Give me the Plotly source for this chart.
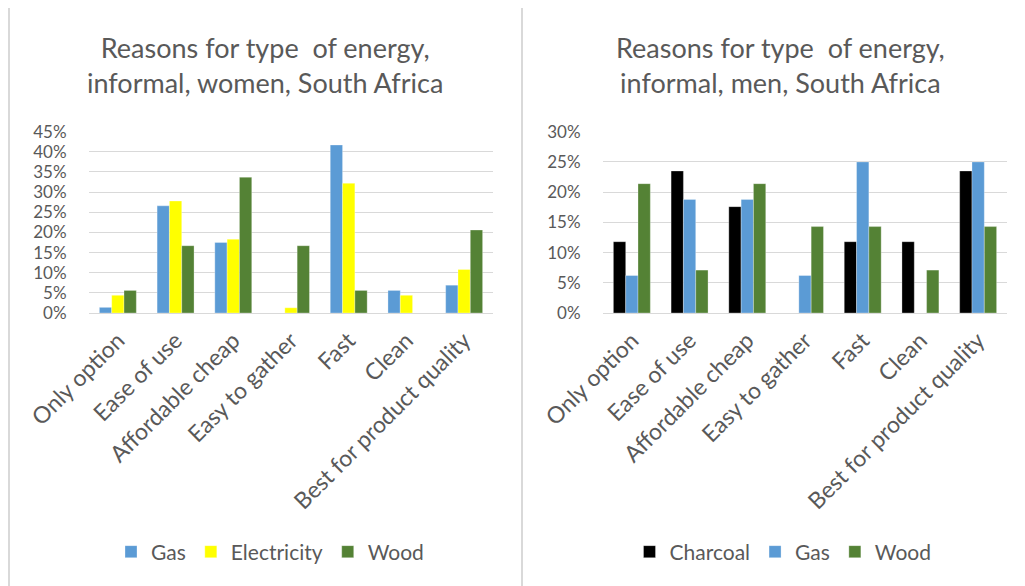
import plotly.graph_objects as go

categories = ["Only option", "Ease of use", "Affordable cheap", "Easy to gather",
              "Fast", "Clean", "Best for product quality"]

women_gas = [0.014, 0.266, 0.175, 0.0, 0.417, 0.056, 0.069]
women_electricity = [0.044, 0.278, 0.183, 0.013, 0.322, 0.044, 0.108]
women_wood = [0.056, 0.167, 0.337, 0.167, 0.056, 0.0, 0.206]

men_charcoal = [0.118, 0.235, 0.176, 0.0, 0.118, 0.118, 0.235]
men_gas = [0.062, 0.188, 0.188, 0.062, 0.25, 0.0, 0.25]
men_wood = [0.214, 0.071, 0.214, 0.143, 0.143, 0.071, 0.143]

women_ticks = [0, 0.05, 0.10, 0.15, 0.20, 0.25, 0.30, 0.35, 0.40, 0.45]
men_ticks = [0, 0.05, 0.10, 0.15, 0.20, 0.25, 0.30]

BLUE = "#5b9bd5"
YELLOW = "#ffff00"
GREEN = "#548235"
BLACK = "#000000"
TXT = "#595959"
GRID = "#d9d9d9"
FONT = "Lato"

# page body has an 8px margin: the figure is placed at (8, 8)
OFF = 8
W, H = 1025 - OFF, 586 - OFF
def px(x):
    return (x - OFF) / W
def py(y):
    return 1 - (y - OFF) / H

fig = go.Figure()
line = dict(color="rgba(255,255,255,0.6)", width=0.5)
fig.add_trace(go.Bar(x=categories, y=women_gas, name="Gas", marker=dict(color=BLUE, line=line),
                     xaxis="x", yaxis="y", legend="legend"))
fig.add_trace(go.Bar(x=categories, y=women_electricity, name="Electricity", marker=dict(color=YELLOW, line=line),
                     xaxis="x", yaxis="y", legend="legend"))
fig.add_trace(go.Bar(x=categories, y=women_wood, name="Wood", marker=dict(color=GREEN, line=line),
                     xaxis="x", yaxis="y", legend="legend"))
fig.add_trace(go.Bar(x=categories, y=men_charcoal, name="Charcoal", marker=dict(color=BLACK, line=line),
                     xaxis="x2", yaxis="y2", legend="legend2"))
fig.add_trace(go.Bar(x=categories, y=men_gas, name="Gas", marker=dict(color=BLUE, line=line),
                     xaxis="x2", yaxis="y2", legend="legend2"))
fig.add_trace(go.Bar(x=categories, y=men_wood, name="Wood", marker=dict(color=GREEN, line=line),
                     xaxis="x2", yaxis="y2", legend="legend2"))

ydom = [py(313), py(131.7)]
xcommon = dict(tickangle=-45, tickfont=dict(size=23, color=TXT, family=FONT),
               showgrid=False, showline=False, ticks="outside", ticklen=4,
               tickcolor="rgba(0,0,0,0)", fixedrange=True, automargin=False)
ycommon = dict(tickformat=".0%", tickfont=dict(size=17, color=TXT, family=FONT),
               showgrid=True, gridcolor=GRID, gridwidth=1, zeroline=True, zerolinecolor=GRID,
               zerolinewidth=1, showline=False, ticks="outside", ticklen=18,
               tickcolor="rgba(0,0,0,0)", fixedrange=True, automargin=False)

fig.update_layout(
    template="none",
    width=W, height=H, autosize=False,
    margin=dict(l=0, r=0, t=0, b=0, pad=0),
    paper_bgcolor="white", plot_bgcolor="white",
    font=dict(family=FONT, color=TXT),
    barmode="group", bargap=0.36, bargroupgap=0,
    xaxis=dict(domain=[px(89), px(493)], anchor="y", **xcommon),
    yaxis=dict(domain=ydom, anchor="x", range=[0, 0.45], tickvals=women_ticks, **ycommon),
    xaxis2=dict(domain=[px(603), px(1007)], anchor="y2", **xcommon),
    yaxis2=dict(domain=ydom, anchor="x2", range=[0, 0.30], tickvals=men_ticks, **ycommon),
    legend=dict(orientation="h", x=px(270), xanchor="center", y=py(552), yanchor="middle",
                font=dict(size=21, color=TXT, family=FONT), traceorder="normal"),
    legend2=dict(orientation="h", x=px(783), xanchor="center", y=py(552), yanchor="middle",
                 font=dict(size=21, color=TXT, family=FONT), traceorder="normal"),
    showlegend=True,
)

fig.add_annotation(text="Reasons for type  of energy,<br>informal, women, South Africa",
                   x=px(265), y=py(65), xref="paper", yref="paper", showarrow=False,
                   xanchor="center", yanchor="middle",
                   font=dict(size=27, color=TXT, family=FONT), align="center")
fig.add_annotation(text="Reasons for type  of energy,<br>informal, men, South Africa",
                   x=px(780), y=py(65), xref="paper", yref="paper", showarrow=False,
                   xanchor="center", yanchor="middle",
                   font=dict(size=27, color=TXT, family=FONT), align="center")

border = dict(color=GRID, width=2)
fig.add_shape(type="line", xref="paper", yref="paper", x0=px(9), x1=1, y0=py(6), y1=py(6), line=border)
fig.add_shape(type="line", xref="paper", yref="paper", x0=px(9), x1=px(9), y0=0, y1=py(6), line=border)
fig.add_shape(type="line", xref="paper", yref="paper", x0=px(522), x1=px(522), y0=0, y1=py(6), line=border)

fig.write_html("out.html")
